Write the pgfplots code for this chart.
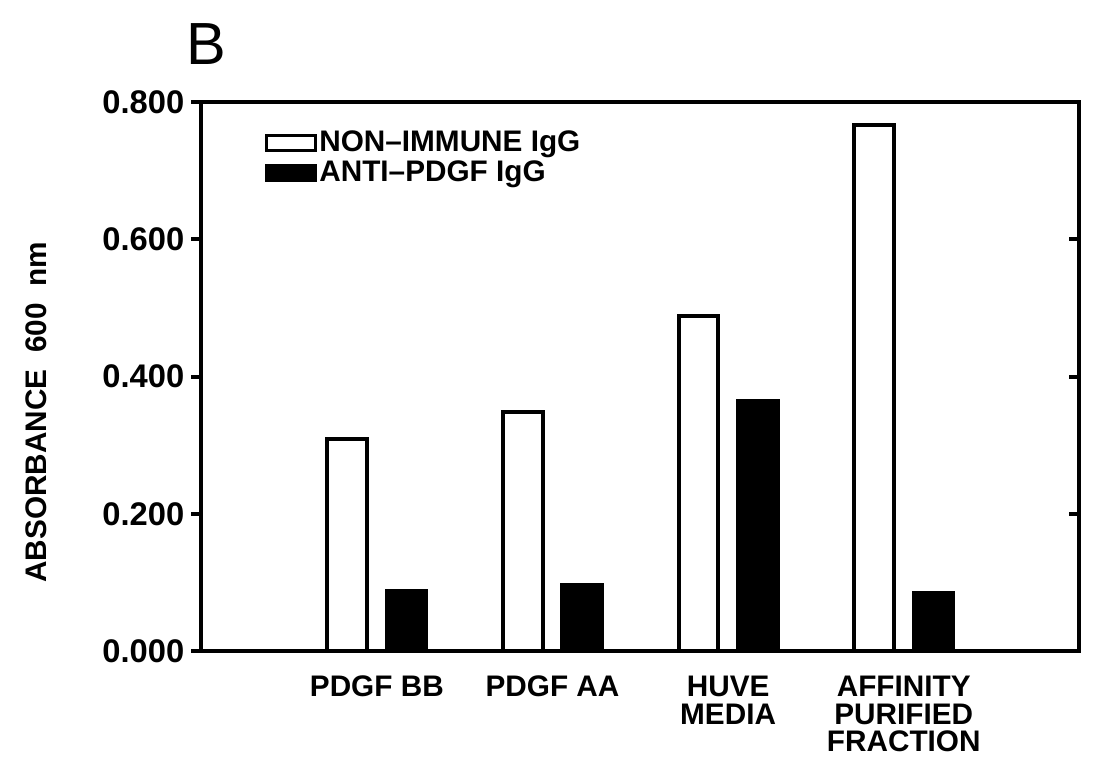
\documentclass[border=0pt]{standalone}
\usepackage{fontspec}
\setmainfont{Liberation Sans}
\usepackage{pgfplots}
\usepackage{pgfplotstable}
\pgfplotsset{compat=1.18}

% absorbance at 600 nm
\pgfplotstableread{
x white black
1 0.309 0.088
2 0.348 0.097
3 0.488 0.364
4 0.767 0.085
}\absdata

\begin{document}
\begin{tikzpicture}
\begin{axis}[
    name=main,
    scale only axis,
    width=443pt, height=277pt,
    xmin=0, xmax=5, ymin=0, ymax=0.8,
    ybar=10pt, bar width=20pt,
    axis line style={line width=2pt},
    xtick={1,2,3,4},
    xticklabels={PDGF BB, PDGF AA, HUVE\\MEDIA, AFFINITY\\PURIFIED\\FRACTION},
    xtick style={draw=none},
    xticklabel style={align=center, font=\fontsize{15}{14}\selectfont\bfseries, yshift=-4pt},
    ytick={0,0.2,0.4,0.6,0.8},
    yticklabels={0.000,0.200,0.400,0.600,0.800},
    ytick pos=left, tick align=outside, major tick length=5pt,
    ytick style={black, line width=2pt},
    yticklabel style={font=\fontsize{16.5}{16}\selectfont\bfseries},
    ylabel={ABSORBANCE~~600~~nm},
    ylabel style={font=\fontsize{15}{15}\selectfont\bfseries, at={(axis description cs:-0.188,0.435)}, anchor=center},
    legend style={at={(axis description cs:0.072,0.955)}, anchor=north west,
        draw=none, fill=none, font=\fontsize{15}{15}\selectfont\bfseries,
        row sep=-1pt, inner sep=0pt, nodes={inner xsep=1pt}},
    legend cell align=left,
    legend image code/.code={\draw[#1, line width=1.5pt] (0pt,-3.75pt) rectangle (25pt,3.75pt);},
    clip=false,
]
\addplot[draw=black, fill=white, line width=2pt] table[x=x, y=white] \absdata;
\addplot[draw=black, fill=black, line width=2pt] table[x=x, y=black] \absdata;
\legend{NON--IMMUNE IgG, ANTI--PDGF IgG}
\node[anchor=base west, font=\fontsize{30}{30}\selectfont] at ([yshift=19pt]rel axis cs:-0.025,1) {B};
\end{axis}
% right-hand ticks point inwards
\begin{axis}[
    scale only axis,
    width=443pt, height=277pt,
    xmin=0, xmax=5, ymin=0, ymax=0.8,
    axis x line=none, axis y line*=right,
    axis line style={line width=2pt},
    ytick={0.2,0.4,0.6}, yticklabels={},
    tick align=inside, major tick length=5pt,
    ytick style={black, line width=2pt},
]
\end{axis}
\path ([shift={(-101.5pt,-61pt)}]main.south west) rectangle ([shift={(2pt,51.5pt)}]main.north east);
\end{tikzpicture}
\end{document}
